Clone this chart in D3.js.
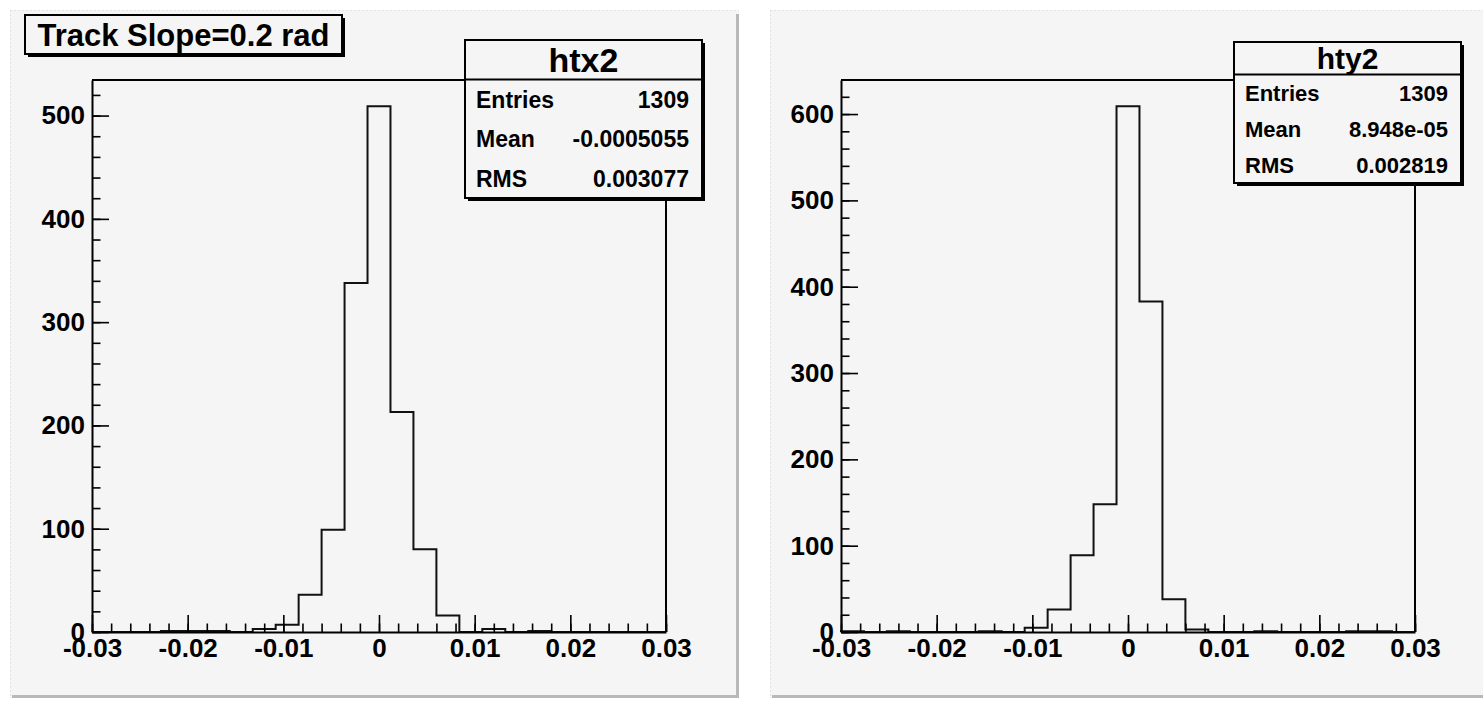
<!DOCTYPE html>
<html>
<head>
<meta charset="utf-8">
<script src="https://cdn.jsdelivr.net/npm/d3@7"></script>
<style>
  body { margin: 0; background: #ffffff; }
  svg text { font-family: "Liberation Sans", Arial, sans-serif; font-weight: bold; fill: #000; }
</style>
</head>
<body>
<div id="canvas"></div>
<script>
// histogram range and binning (25 bins between -0.03 and 0.03)
var xRange = [-0.03, 0.03];
var nBins = 25;

// bin contents
var htx2Counts = [0, 0, 0, 1, 1, 1, 0, 3, 7, 36, 99, 338, 509, 213, 80, 16, 0, 3, 0, 1, 0, 0, 0, 0, 0];
var hty2Counts = [1, 0, 1, 0, 0, 0, 1, 0, 5, 26, 89, 148, 609, 383, 38, 3, 0, 0, 1, 0, 0, 0, 1, 1, 0];

var xTickValues = [-0.03, -0.02, -0.01, 0, 0.01, 0.02, 0.03];
var xTickLabels = ["-0.03", "-0.02", "-0.01", "0", "0.01", "0.02", "0.03"];
var htx2YTicks = [0, 100, 200, 300, 400, 500];
var hty2YTicks = [0, 100, 200, 300, 400, 500, 600];

var statNames = ["Entries", "Mean", "RMS"];
var htx2StatValues = ["1309", "-0.0005055", "0.003077"];
var hty2StatValues = ["1309", "8.948e-05", "0.002819"];

var titleText = "Track Slope=0.2 rad";

var W = 1483, H = 701;
var padFill = "#f5f5f5";

var svg = d3.select("#canvas").append("svg")
    .attr("width", W)
    .attr("height", H);

svg.append("rect").attr("width", W).attr("height", H).attr("fill", "#ffffff");

/**
 * Draws one ROOT-like pad holding one histogram with its stats box
 */
function drawPad(opt)
{
    var g = svg.append("g");

    // pad background with bevel on right/bottom
    g.append("rect")
        .attr("x", opt.pad[0]).attr("y", opt.pad[1])
        .attr("width", opt.pad[2]).attr("height", opt.pad[3])
        .attr("fill", padFill);
    g.append("path")
        .attr("d", "M" + opt.pad[0] + "," + (opt.pad[1] + 0.5) + "H" + (opt.pad[0] + opt.pad[2]) +
                   "M" + (opt.pad[0] + 0.5) + "," + opt.pad[1] + "V" + (opt.pad[1] + opt.pad[3]))
        .attr("stroke", "#e2e2e2").attr("stroke-dasharray", "2,2").attr("fill", "none");
    g.append("path")
        .attr("d", "M" + (opt.pad[0] + opt.pad[2] - 1.5) + "," + (opt.pad[1] + 4) + "V" + (opt.pad[1] + opt.pad[3] - 1.5) +
                   "H" + (opt.pad[0] + 2))
        .attr("stroke", "#b8b8b8").attr("stroke-width", 3).attr("fill", "none");

    var x = d3.scaleLinear().domain(xRange).range([opt.frame.left, opt.frame.right]);
    var ymax = d3.max(opt.counts) * 1.05;
    var y = d3.scaleLinear().domain([0, ymax]).range([opt.frame.bottom, opt.frame.top]);

    var binW = (xRange[1] - xRange[0]) / nBins;

    // frame top and right
    g.append("path")
        .attr("d", "M" + x(xRange[0]) + "," + y(ymax) + "H" + x(xRange[1]) + "V" + y(0))
        .attr("stroke", "#000").attr("stroke-width", 2).attr("fill", "none");

    // histogram outline
    var pts = [[xRange[0], 0]];
    opt.counts.forEach(function(c, i) {
        pts.push([xRange[0] + i * binW, c]);
        pts.push([xRange[0] + (i + 1) * binW, c]);
    });
    pts.push([xRange[1], 0]);

    var histLine = d3.line()
        .x(function(d) { return x(d[0]); })
        .y(function(d) { return y(d[1]); });

    g.append("path")
        .attr("d", histLine(pts))
        .attr("fill", "none")
        .attr("stroke", "#111")
        .attr("stroke-width", 2);

    // minor ticks
    var xMinor = d3.range(0, 31).map(function(k) { return xRange[0] + k * 0.002; });
    var yMinor = d3.range(0, ymax, 20);

    g.append("g")
        .attr("transform", "translate(0," + y(0) + ")")
        .call(d3.axisBottom(x).tickValues(xMinor).tickFormat("").tickSize(-8.5).tickSizeOuter(0))
        .call(function(a) { a.select(".domain").remove(); a.selectAll("line").attr("stroke-width", 1.6); });

    g.append("g")
        .attr("transform", "translate(" + x(xRange[0]) + ",0)")
        .call(d3.axisLeft(y).tickValues(yMinor).tickFormat("").tickSize(-8.5).tickSizeOuter(0))
        .call(function(a) { a.select(".domain").remove(); a.selectAll("line").attr("stroke-width", 1.6); });

    // major ticks and labels
    var xAxis = d3.axisBottom(x)
        .tickValues(xTickValues)
        .tickFormat(function(d, i) { return xTickLabels[i]; })
        .tickSize(-17).tickSizeOuter(0).tickPadding(7);

    g.append("g")
        .attr("transform", "translate(0," + y(0) + ")")
        .call(xAxis)
        .call(function(a) {
            a.select(".domain").attr("stroke-width", 2);
            a.selectAll("line").attr("stroke-width", 1.6);
            a.selectAll("text").attr("font-size", 26).style("font-family", null);
        });

    var yAxis = d3.axisLeft(y)
        .tickValues(opt.yTicks)
        .tickSize(-17).tickSizeOuter(0).tickPadding(7);

    g.append("g")
        .attr("transform", "translate(" + x(xRange[0]) + ",0)")
        .call(yAxis)
        .call(function(a) {
            a.select(".domain").attr("stroke-width", 2);
            a.selectAll("line").attr("stroke-width", 1.6);
            a.selectAll("text").attr("font-size", 26).style("font-family", null);
        });

    // stats box
    var b = opt.stats;
    g.append("rect")
        .attr("x", b.x + 3).attr("y", b.y + 3).attr("width", b.w).attr("height", b.h)
        .attr("fill", "#000");
    g.append("rect")
        .attr("x", b.x).attr("y", b.y).attr("width", b.w).attr("height", b.h)
        .attr("fill", padFill).attr("stroke", "#000").attr("stroke-width", 2);
    g.append("line")
        .attr("x1", b.x).attr("x2", b.x + b.w)
        .attr("y1", b.y + b.head).attr("y2", b.y + b.head)
        .attr("stroke", "#000").attr("stroke-width", 2);
    g.append("text")
        .attr("x", b.x + b.w / 2).attr("y", b.y + b.head / 2)
        .attr("dy", "0.36em").attr("text-anchor", "middle")
        .attr("font-size", b.headFont)
        .text(opt.name);

    var rowH = (b.h - b.head) / statNames.length;
    statNames.forEach(function(s, i) {
        var cy = b.y + b.head + rowH * (i + 0.5);
        g.append("text")
            .attr("x", b.x + 11).attr("y", cy).attr("dy", "0.36em")
            .attr("font-size", b.font)
            .text(s);
        g.append("text")
            .attr("x", b.x + b.w - 13).attr("y", cy).attr("dy", "0.36em")
            .attr("text-anchor", "end")
            .attr("font-size", b.font)
            .text(opt.statValues[i]);
    });
}

drawPad({
    name: "htx2",
    pad: [10, 10, 729, 688],
    frame: {left: 92, right: 666, top: 80, bottom: 632},
    counts: htx2Counts,
    yTicks: htx2YTicks,
    statValues: htx2StatValues,
    stats: {x: 465, y: 40, w: 237, h: 158, head: 39.5, headFont: 34, font: 23}
});

drawPad({
    name: "hty2",
    pad: [770, 10, 716, 688],
    frame: {left: 841, right: 1415, top: 80, bottom: 632},
    counts: hty2Counts,
    yTicks: hty2YTicks,
    statValues: hty2StatValues,
    stats: {x: 1234, y: 42, w: 227, h: 141, head: 32.5, headFont: 30, font: 22}
});

// title box on the left pad
var tb = svg.append("g");
tb.append("rect").attr("x", 28).attr("y", 18).attr("width", 317).attr("height", 39).attr("fill", "#000");
tb.append("rect").attr("x", 25).attr("y", 15).attr("width", 317).attr("height", 39)
    .attr("fill", padFill).attr("stroke", "#000").attr("stroke-width", 2);
tb.append("text")
    .attr("x", 25 + 158.5).attr("y", 15 + 19.5).attr("dy", "0.36em")
    .attr("text-anchor", "middle")
    .attr("font-size", 31)
    .text(titleText);
</script>
</body>
</html>
